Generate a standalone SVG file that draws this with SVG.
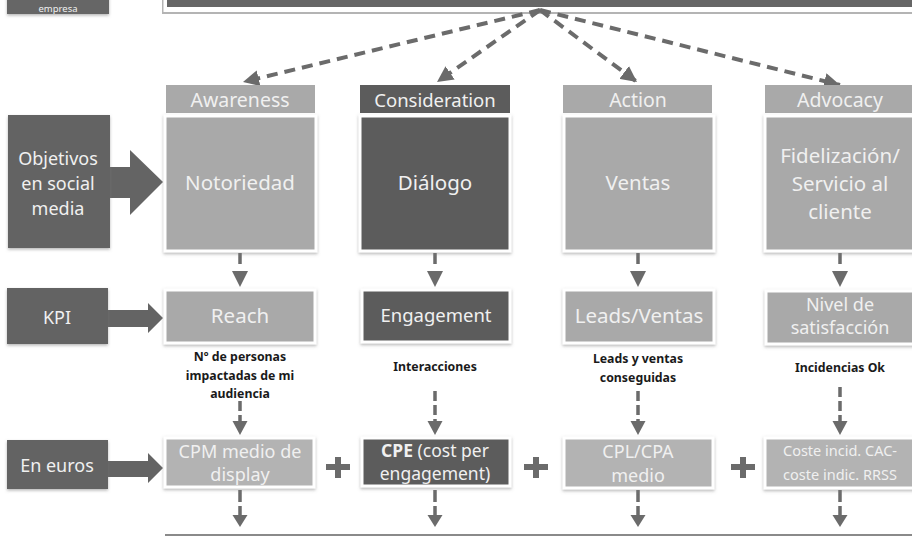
<svg xmlns="http://www.w3.org/2000/svg" width="912" height="536" viewBox="0 0 912 536">
<defs>
<style>
.bg{fill:#ffffff}
.lt{fill:#a9a9a9}
.lt2{fill:#b3b3b3}
.dk{fill:#5c5c5c}
.side{fill:#646464}
.bx{stroke:#ffffff;stroke-width:3}
.wt{fill:#f0f0f0;font-family:"Noto Sans","Open Sans",sans-serif;text-anchor:middle}
.lbl{fill:#1a1a1a;font-family:"Noto Sans","Open Sans",sans-serif;font-weight:bold;font-size:12.3px;text-anchor:middle}
.conn{stroke:#6b6b6b;fill:none}
.head{fill:#6b6b6b}
.dash{stroke:#6b6b6b;stroke-width:4;stroke-dasharray:11 7;fill:none}
</style>
<filter id="sh" x="-10%" y="-10%" width="120%" height="130%">
<feDropShadow dx="0" dy="1.5" stdDeviation="1.5" flood-color="#7a7a7a" flood-opacity="0.55"/>
</filter>
<marker id="ah" markerUnits="userSpaceOnUse" markerWidth="18" markerHeight="16" refX="16" refY="8" orient="auto">
<path d="M0,0 L16,8 L0,16 Z" fill="#6b6b6b"/>
</marker>
</defs>
<rect class="bg" x="0" y="0" width="912" height="536"/>

<g id="empresa">
<rect x="7" y="-10" width="102" height="24" fill="#666666" filter="url(#sh)"/>
<text class="wt" x="58" y="11.5" font-size="9.5">empresa</text>
</g>

<g id="topbar">
<rect x="162" y="-10" width="760" height="24" fill="#b4b4b4"/>
<rect x="163.5" y="-10" width="760" height="22" fill="#ffffff"/>
<rect x="167" y="-10" width="760" height="17" fill="#666666"/>
</g>

<g id="connectors">
<line class="dash" x1="540" y1="10" x2="243" y2="82" marker-end="url(#ah)"/>
<line class="dash" x1="540" y1="10" x2="437" y2="82" marker-end="url(#ah)"/>
<line class="dash" x1="540" y1="10" x2="637" y2="82" marker-end="url(#ah)"/>
<line class="dash" x1="540" y1="10" x2="840" y2="85" marker-end="url(#ah)"/>

<path class="side" d="M110,167 L130,167 L130,150 L163,182 L130,215 L130,198 L110,198 Z"/>
<path class="side" d="M108,310 L148,310 L148,303 L163,318 L148,333 L148,327 L108,327 Z"/>
<path class="side" d="M108,461 L148,461 L148,453 L163,468 L148,483 L148,477 L108,477 Z"/>

<g class="conn" stroke-width="3.5">
<line x1="240" y1="253" x2="240" y2="264"/>
<line x1="435" y1="253" x2="435" y2="264"/>
<line x1="638" y1="253" x2="638" y2="264"/>
<line x1="840" y1="253" x2="840" y2="264"/>
</g>
<g class="head">
<path d="M232,271 L248,271 L240,287 Z"/>
<path d="M427,271 L443,271 L435,287 Z"/>
<path d="M630,271 L646,271 L638,287 Z"/>
<path d="M832,271 L848,271 L840,287 Z"/>
</g>

<g class="conn" stroke-width="3.5" stroke-dasharray="10 4">
<line x1="240" y1="401" x2="240" y2="424"/>
<line x1="435" y1="391" x2="435" y2="424"/>
<line x1="638" y1="391" x2="638" y2="424"/>
<line x1="840" y1="387" x2="840" y2="424"/>
</g>
<g class="head">
<path d="M232.5,421 L247.5,421 L240,435 Z"/>
<path d="M427.5,421 L442.5,421 L435,435 Z"/>
<path d="M630.5,421 L645.5,421 L638,435 Z"/>
<path d="M832.5,421 L847.5,421 L840,435 Z"/>
</g>

<g class="conn" stroke-width="3.5" stroke-dasharray="12 4">
<line x1="240" y1="490" x2="240" y2="518"/>
<line x1="435" y1="490" x2="435" y2="518"/>
<line x1="638" y1="490" x2="638" y2="518"/>
<line x1="840" y1="490" x2="840" y2="518"/>
</g>
<g class="head">
<path d="M232.5,515 L247.5,515 L240,527 Z"/>
<path d="M427.5,515 L442.5,515 L435,527 Z"/>
<path d="M630.5,515 L645.5,515 L638,527 Z"/>
<path d="M832.5,515 L847.5,515 L840,527 Z"/>
</g>
</g>

<g id="plus1" class="head"><rect x="326" y="464" width="24" height="6"/><rect x="335" y="457" width="6" height="21"/></g>
<g id="plus2" class="head"><rect x="524" y="464" width="24" height="6"/><rect x="533" y="457" width="6" height="21"/></g>
<g id="plus3" class="head"><rect x="731" y="464" width="24" height="6"/><rect x="740" y="457" width="6" height="21"/></g>

<g id="objetivos">
<rect class="side" x="8" y="115" width="102" height="133" filter="url(#sh)"/>
<text class="wt" font-size="18" x="58" y="165">Objetivos</text>
<text class="wt" font-size="18" x="58" y="190">en social</text>
<text class="wt" font-size="18" x="58" y="215">media</text>
</g>
<g id="kpi">
<rect class="side" x="7" y="288" width="101" height="56" filter="url(#sh)"/>
<text class="wt" font-size="18" x="57" y="324">KPI</text>
</g>
<g id="euros">
<rect class="side" x="7" y="440" width="101" height="49" filter="url(#sh)"/>
<text class="wt" font-size="18" x="57" y="472">En euros</text>
</g>

<g id="awareness">
<rect class="lt" x="166" y="85" width="149" height="28"/>
<text class="wt" font-size="19.5" x="240" y="107">Awareness</text>
</g>
<g id="consideration">
<rect class="dk" x="360" y="85" width="150" height="28"/>
<text class="wt" font-size="18.5" x="435" y="107">Consideration</text>
</g>
<g id="action">
<rect class="lt" x="563" y="85" width="149" height="28"/>
<text class="wt" font-size="19.5" x="638" y="107">Action</text>
</g>
<g id="advocacy">
<rect class="lt" x="765" y="85" width="150" height="28"/>
<text class="wt" font-size="19.5" x="840" y="107">Advocacy</text>
</g>

<g id="notoriedad">
<rect class="lt bx" x="165" y="116" width="151" height="135" filter="url(#sh)"/>
<text class="wt" font-size="20.5" x="240" y="190">Notoriedad</text>
</g>
<g id="dialogo">
<rect class="dk bx" x="360" y="116" width="150" height="135" filter="url(#sh)"/>
<text class="wt" font-size="20.5" x="435" y="190">Diálogo</text>
</g>
<g id="ventas">
<rect class="lt bx" x="564" y="116" width="150" height="135" filter="url(#sh)"/>
<text class="wt" font-size="20.5" x="638" y="190">Ventas</text>
</g>
<g id="fidelizacion">
<rect class="lt bx" x="765" y="116" width="152" height="135" filter="url(#sh)"/>
<text class="wt" font-size="20.5" x="840" y="163">Fidelización/</text>
<text class="wt" font-size="20.5" x="840" y="191">Servicio al</text>
<text class="wt" font-size="20.5" x="840" y="219">cliente</text>
</g>

<g id="reach">
<rect class="lt bx" x="165" y="290" width="150" height="53" filter="url(#sh)"/>
<text class="wt" font-size="20.5" x="240" y="323">Reach</text>
</g>
<g id="engagement">
<rect class="dk bx" x="362" y="290" width="148" height="52" filter="url(#sh)"/>
<text class="wt" font-size="18.5" x="436" y="322">Engagement</text>
</g>
<g id="leads">
<rect class="lt bx" x="564" y="290" width="150" height="53" filter="url(#sh)"/>
<text class="wt" font-size="20.5" x="639" y="323">Leads/Ventas</text>
</g>
<g id="satisfaccion">
<rect class="lt bx" x="766" y="291" width="152" height="53" filter="url(#sh)"/>
<text class="wt" font-size="18" x="840" y="311">Nivel de</text>
<text class="wt" font-size="18" x="840" y="334">satisfacción</text>
</g>

<g id="labels">
<text class="lbl" x="240" y="361">Nº de personas</text>
<text class="lbl" x="240" y="380">impactadas de mi</text>
<text class="lbl" x="240" y="398">audiencia</text>
<text class="lbl" x="435" y="371">Interacciones</text>
<text class="lbl" x="638" y="363">Leads y ventas</text>
<text class="lbl" x="638" y="382">conseguidas</text>
<text class="lbl" x="840" y="372">Incidencias Ok</text>
</g>

<g id="cpm">
<rect class="lt2 bx" x="165" y="438" width="149" height="49" filter="url(#sh)"/>
<text class="wt" font-size="18" x="240" y="458">CPM medio de</text>
<text class="wt" font-size="18" x="240" y="481">display</text>
</g>
<g id="cpe">
<rect class="dk bx" x="362" y="438" width="148" height="48" filter="url(#sh)"/>
<text class="wt" font-size="17.5" x="435" y="457"><tspan font-weight="bold">CPE</tspan> (cost per</text>
<text class="wt" font-size="17.5" x="435" y="480">engagement)</text>
</g>
<g id="cpl">
<rect class="lt2 bx" x="564" y="438" width="149" height="50" filter="url(#sh)"/>
<text class="wt" font-size="18" x="638" y="458">CPL/CPA</text>
<text class="wt" font-size="18" x="638" y="482">medio</text>
</g>
<g id="coste">
<rect class="lt2 bx" x="765" y="438" width="152" height="50" filter="url(#sh)"/>
<text class="wt" font-size="14.5" x="840" y="456">Coste incid. CAC-</text>
<text class="wt" font-size="14.5" x="840" y="480">coste indic. RRSS</text>
</g>

<g id="bottombar">
<rect x="165" y="534" width="760" height="4" fill="#8a8a8a"/>
</g>
</svg>
